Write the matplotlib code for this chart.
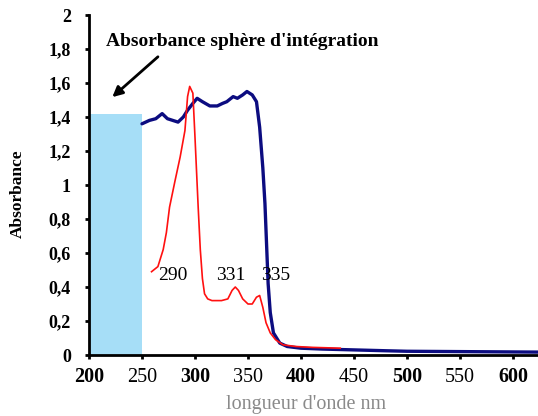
import matplotlib
matplotlib.use('Agg')
import matplotlib.pyplot as plt

# spectre mesuré avec la sphère d'intégration (bleu)
wl_sphere = [250, 257, 263, 269, 274, 279, 284, 289, 293, 298, 302, 307, 314, 321, 326,
             330, 336, 340, 345, 349, 354, 358, 361, 364, 366, 369, 371, 374, 380, 387,
             400, 420, 450, 480, 500, 550, 600, 625]
abs_sphere = [1.36, 1.38, 1.39, 1.42, 1.39, 1.38, 1.37, 1.40, 1.44, 1.48, 1.51, 1.49, 1.465, 1.465, 1.48,
              1.49, 1.52, 1.51, 1.53, 1.55, 1.53, 1.49, 1.34, 1.10, 0.89, 0.42, 0.25, 0.13, 0.07, 0.05,
              0.04, 0.035, 0.03, 0.025, 0.022, 0.02, 0.018, 0.017]

# spectre en solution (rouge)
wl_sol = [259, 265, 270, 273, 276, 281, 286, 290.5, 293, 295, 298, 300, 303, 305, 307,
          309, 312, 316, 325, 331, 335, 338, 341, 345, 350, 354, 358, 361, 364, 367,
          371, 376, 383, 395, 410, 437]
abs_sol = [0.49, 0.52, 0.62, 0.72, 0.87, 1.02, 1.165, 1.32, 1.52, 1.58, 1.54, 1.28, 0.87, 0.62, 0.45,
           0.36, 0.33, 0.32, 0.32, 0.33, 0.38, 0.40, 0.38, 0.33, 0.30, 0.30, 0.34, 0.35, 0.28, 0.19,
           0.13, 0.09, 0.06, 0.05, 0.045, 0.04]

sphere_range = [200, 250]
sphere_level = 1.42

peak_labels = ['290', '331', '335']
peak_pos = [279, 334, 376]
peak_y = 0.47

xticks = [200, 250, 300, 350, 400, 450, 500, 550, 600]
yticks = [0, 0.2, 0.4, 0.6, 0.8, 1, 1.2, 1.4, 1.6, 1.8, 2]
ytick_labels = ['0', '0,2', '0,4', '0,6', '0,8', '1', '1,2', '1,4', '1,6', '1,8', '2']

plt.rcParams['font.family'] = ['Liberation Serif', 'DejaVu Serif']

fig = plt.figure(figsize=(5.38, 4.16), dpi=100)
ax = fig.add_axes([89/538, 1-355/416, (538-89)/538, 340/416])

ax.bar((sphere_range[0]+sphere_range[1])/2, sphere_level, width=sphere_range[1]-sphere_range[0],
       color='#a6def7', zorder=1)
ax.plot(wl_sphere, abs_sphere, color='#0c0c80', lw=2.4, zorder=3, solid_capstyle='round')
ax.plot(wl_sol, abs_sol, color='#ff1010', lw=1.2, zorder=4)

for lab, xp in zip(peak_labels, peak_pos):
    ax.text(xp, peak_y, lab, fontsize=14, ha='center', va='center', zorder=5)

# flèche vers le rectangle
ax.annotate('', xy=(220, 1.506), xytext=(267, 1.765),
            arrowprops=dict(arrowstyle='-|>', color='black', lw=2, mutation_scale=15))
ax.text(216, 1.845, "Absorbance sphère d'intégration", fontsize=14, fontweight='bold',
        ha='left', va='center')

ax.set_xlim(200, 623.6)
ax.set_ylim(0, 2)
ax.set_xticks(xticks)
ax.set_xticklabels([str(t) for t in xticks], fontsize=14.5)
for i, lab in enumerate(ax.get_xticklabels()):
    lab.set_fontweight('bold' if i % 2 == 0 else 'normal')
ax.set_yticks(yticks)
ax.set_yticklabels(ytick_labels, fontsize=13, fontweight='bold')

for s in ['top', 'right']:
    ax.spines[s].set_visible(False)
for s in ['left', 'bottom']:
    ax.spines[s].set_linewidth(2)
ax.tick_params(axis='both', direction='out', length=3, width=2, pad=6)
ax.tick_params(axis='y', pad=10)

fig.text(18/538, 1-194/416, 'Absorbance', fontsize=12.5, fontweight='bold',
         rotation=90, ha='center', va='center')
fig.text(306/538, 2/416, "longueur d'onde nm", fontsize=14.5, color='#8a8a8a',
         ha='center', va='bottom')

fig.savefig('out.png', dpi=100)
